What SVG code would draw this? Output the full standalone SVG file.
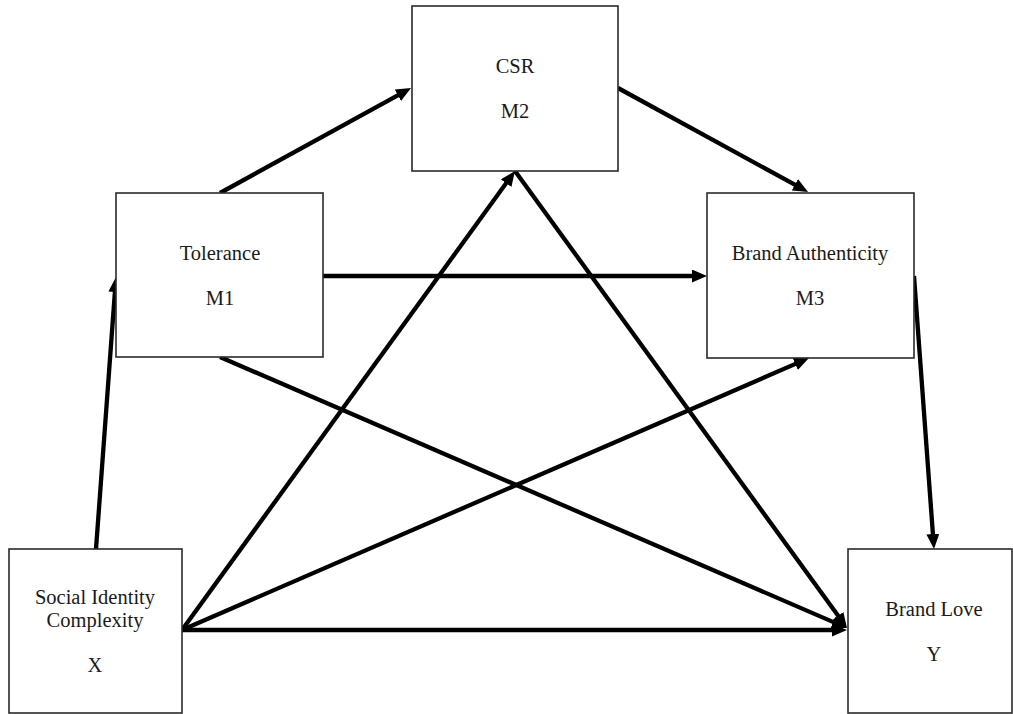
<svg xmlns="http://www.w3.org/2000/svg" width="1013" height="714" viewBox="0 0 1013 714">
<style>
.box{fill:#fff;stroke:#2a2a2a;stroke-width:1.6}
.lbl{font-family:"Liberation Serif","Times New Roman",serif;font-size:20.5px;fill:#1a1a1a;text-anchor:middle}
.arr{stroke:#000;stroke-width:4.3;fill:none;marker-end:url(#ah)}
</style>
<defs>
<marker id="ah" markerUnits="userSpaceOnUse" markerWidth="15" markerHeight="13" refX="4" refY="6.5" orient="auto">
<path d="M0,0 L15,6.5 L0,13 z" fill="#000"/>
</marker>
</defs>
<rect width="1013" height="714" fill="#fff"/>
<g id="connectors">
<line class="arr" x1="96" y1="549" x2="115.2" y2="288"/>
<line class="arr" x1="220" y1="193" x2="401.4" y2="93.3"/>
<line class="arr" x1="618" y1="88" x2="798.4" y2="186.7"/>
<line class="arr" x1="323" y1="276" x2="696" y2="276"/>
<line class="arr" x1="914" y1="276" x2="933.2" y2="538"/>
<line class="arr" x1="182" y1="630" x2="508.5" y2="180"/>
<line class="arr" x1="515" y1="171" x2="840.5" y2="619.1"/>
<line class="arr" x1="220" y1="357" x2="836.9" y2="623.6"/>
<line class="arr" x1="182" y1="630" x2="798.9" y2="362.4"/>
<line class="arr" x1="182" y1="630" x2="836" y2="630"/>
</g>
<g id="node-csr">
<rect class="box" x="412" y="6" width="206" height="165"/>
<text class="lbl" x="515" y="73">CSR</text>
<text class="lbl" x="515" y="118">M2</text>
</g>
<g id="node-tolerance">
<rect class="box" x="116" y="193" width="207" height="164"/>
<text class="lbl" x="220" y="260">Tolerance</text>
<text class="lbl" x="220" y="305">M1</text>
</g>
<g id="node-authenticity">
<rect class="box" x="707" y="193" width="207" height="165"/>
<text class="lbl" x="810" y="260">Brand Authenticity</text>
<text class="lbl" x="810" y="305">M3</text>
</g>
<g id="node-x">
<rect class="box" x="9" y="549" width="173" height="164"/>
<text class="lbl" x="95" y="604">Social Identity</text>
<text class="lbl" x="95" y="627">Complexity</text>
<text class="lbl" x="95" y="672">X</text>
</g>
<g id="node-y">
<rect class="box" x="848" y="549" width="164" height="164"/>
<text class="lbl" x="934" y="616">Brand Love</text>
<text class="lbl" x="934" y="661">Y</text>
</g>
</svg>
